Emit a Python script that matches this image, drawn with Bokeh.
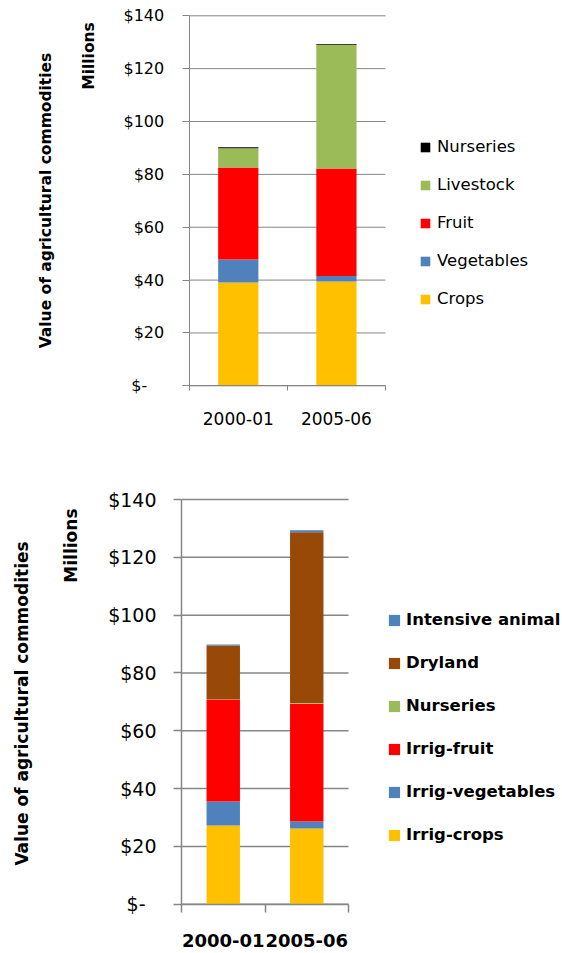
import math
from bokeh.plotting import figure
from bokeh.models import (ColumnDataSource, Range1d, FixedTicker, Legend, LegendItem,
                          Label, LinearAxis)
from bokeh.core.properties import value
from bokeh.layouts import column
from bokeh.embed import file_html
from bokeh.resources import INLINE

# ---------------- data ----------------
years = ["2000-01", "2005-06"]
y_ticks = [0, 20, 40, 60, 80, 100, 120, 140]
y_tick_labels = ["$-", "$20", "$40", "$60", "$80", "$100", "$120", "$140"]
axis_title = "Value of agricultural commodities"
units_title = "Millions"

# top chart (stack order bottom -> top)
top_names = ["Crops", "Vegetables", "Fruit", "Livestock", "Nurseries"]
top_crops = [39.1, 39.5]
top_vegetables = [8.7, 2.0]
top_fruit = [34.8, 40.7]
top_livestock = [7.3, 46.8]
top_nurseries = [0.4, 0.3]
top_colors = ["#FFC000", "#4F81BD", "#FF0000", "#9BBB59", "#000000"]

# bottom chart (stack order bottom -> top)
bot_names = ["Irrig-crops", "Irrig-vegetables", "Irrig-fruit", "Nurseries", "Dryland", "Intensive animal"]
bot_irrig_crops = [27.2, 26.2]
bot_irrig_vegetables = [8.3, 2.4]
bot_irrig_fruit = [35.3, 40.7]
bot_nurseries = [0.1, 0.3]
bot_dryland = [18.6, 59.1]
bot_intensive_animal = [0.35, 0.7]
bot_colors = ["#FFC000", "#4F81BD", "#FF0000", "#9BBB59", "#984807", "#4F81BD"]

FONT = "DejaVu Sans"
GRAY = "#868686"
W = 562


def build(names, series, colors, c):
    n = len(years)
    H = c["H"]
    ymin, ymax = y_ticks[0], y_ticks[-1]
    ppx = (c["fx1"] - c["fx0"]) / n
    ppy = (c["fy0"] - c["fy1"]) / (ymax - ymin)
    xs, xe = -c["fx0"] / ppx, (W - c["fx0"]) / ppx
    ys, ye = ymin - (H - c["fy0"]) / ppy, ymax + c["fy1"] / ppy

    def dx(px):
        return xs + px / ppx

    def dy(py):
        return ye - py / ppy

    p = figure(width=W, height=H, output_backend="svg", toolbar_location=None,
               x_range=Range1d(xs, xe), y_range=Range1d(ys, ye),
               x_axis_type=None, y_axis_type=None,
               min_border_left=0, min_border_right=0, min_border_top=0, min_border_bottom=0)
    p.outline_line_color = None
    p.grid.visible = False

    # gridlines (behind bars)
    p.segment(x0=0, x1=n, y0=y_ticks, y1=y_ticks, line_color=GRAY, line_width=c["lw"])

    x = [i + 0.5 for i in range(n)]
    data = {"x": x}
    for nm, v in zip(names, series):
        data[nm] = v
    src = ColumnDataSource(data)
    rends = p.vbar_stack(names, x="x", width=c["bar_width"], color=colors,
                         line_color=None, source=src)

    # y axis (line + ticks), labels drawn as text
    yax = LinearAxis(fixed_location=0, bounds=(ymin, ymax),
                     ticker=FixedTicker(ticks=y_ticks, minor_ticks=[]))
    yax.axis_line_color = GRAY
    yax.axis_line_width = c["lw"]
    yax.major_tick_line_color = GRAY
    yax.major_tick_line_width = c["lw"]
    yax.major_tick_out = c["ytick_out"]
    yax.major_tick_in = 0
    yax.minor_tick_line_color = None
    yax.major_label_text_alpha = 0
    yax.major_label_text_font_size = "1px"
    p.add_layout(yax, "left")

    offs = [c["ylab_dx"] - (c["dash_pad"] if lab == "$-" else 0) for lab in y_tick_labels]
    lsrc = ColumnDataSource(dict(y=y_ticks, text=y_tick_labels, xo=offs))
    p.text(x=0, y="y", text="text", x_offset="xo", source=lsrc, text_align="right",
           text_baseline="middle", text_font=value(FONT), text_font_size=c["ytick_size"],
           text_color="black")

    # x axis: labels at category centres, tick marks at category boundaries
    xax = LinearAxis(fixed_location=0, bounds=(0, n),
                     ticker=FixedTicker(ticks=x, minor_ticks=list(range(n + 1))))
    xax.major_label_overrides = {xi: yr for xi, yr in zip(x, years)}
    xax.axis_line_color = GRAY
    xax.axis_line_width = c["lw"]
    xax.major_tick_line_color = None
    xax.major_tick_out = 0
    xax.major_tick_in = 0
    xax.minor_tick_line_color = GRAY
    xax.minor_tick_line_width = c["lw"]
    xax.minor_tick_out = c["xtick_out"]
    xax.minor_tick_in = 0
    xax.major_label_standoff = c["xstandoff"]
    xax.major_label_text_font = FONT
    xax.major_label_text_font_size = c["xlab_size"]
    xax.major_label_text_font_style = c["xlab_style"]
    xax.major_label_text_color = "black"
    p.add_layout(xax, "below")

    # axis titles
    p.add_layout(Label(x=dx(c["title_px"][0]), y=dy(c["title_px"][1]),
                       text=axis_title, angle=math.pi / 2, text_align="center",
                       text_baseline="middle", text_font=FONT, text_font_style="bold",
                       text_font_size=c["title_size"], text_color="black"))
    p.add_layout(Label(x=dx(c["units_px"][0]), y=dy(c["units_px"][1]),
                       text=units_title, angle=math.pi / 2, text_align="right",
                       text_baseline="middle", text_font=FONT, text_font_style="bold",
                       text_font_size=c["title_size"], text_color="black"))

    items = [LegendItem(label=nm, renderers=[r]) for nm, r in zip(names, rends)]
    items.reverse()
    leg = Legend(items=items, location=c["leg_loc"], orientation="vertical",
                 glyph_width=c["glyph"], glyph_height=c["glyph"],
                 label_height=c["glyph"], spacing=c["leg_spacing"],
                 label_standoff=c["leg_standoff"], padding=0, margin=0,
                 border_line_color=None, background_fill_alpha=0,
                 label_text_font=FONT, label_text_font_size=c["leg_size"],
                 label_text_font_style=c["leg_style"], label_text_color="black")
    p.add_layout(leg)
    return p


top_cfg = dict(H=470, fx0=188.7, fx1=385.0, fy1=15.3, fy0=385.3, bar_width=0.41,
               lw=1, dash_pad=17, ytick_out=7, ylab_dx=-25, ytick_size="16px",
               xtick_out=5, xstandoff=21, xlab_size="17px", xlab_style="normal",
               title_size="15.5px", title_px=(45, 200), units_px=(88, 21.7),
               leg_loc=(419, 162), glyph=12, leg_spacing=19, leg_standoff=6,
               leg_size="16.5px", leg_style="normal")

bot_cfg = dict(H=483, fx0=181.0, fx1=348.0, fy1=29.0, fy0=433.7, bar_width=0.40,
               lw=1.5, dash_pad=11, ytick_out=8, ylab_dx=-25, ytick_size="19px",
               xtick_out=8, xstandoff=22, xlab_size="18px", xlab_style="bold",
               title_size="17px", title_px=(21.7, 233), units_px=(70.8, 38),
               leg_loc=(387, 109), glyph=14, leg_spacing=24, leg_standoff=5,
               leg_size="16.5px", leg_style="bold")

p1 = build(top_names, [top_crops, top_vegetables, top_fruit, top_livestock, top_nurseries],
           top_colors, top_cfg)
p2 = build(bot_names, [bot_irrig_crops, bot_irrig_vegetables, bot_irrig_fruit, bot_nurseries,
                       bot_dryland, bot_intensive_animal], bot_colors, bot_cfg)

layout = column(p1, p2, spacing=0)
open("out.html", "w").write(file_html(layout, INLINE))
